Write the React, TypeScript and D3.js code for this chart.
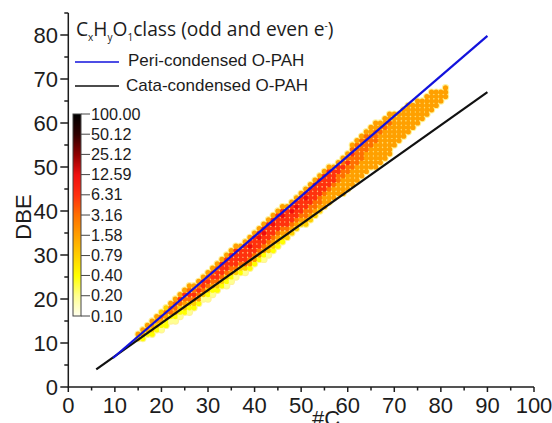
import React from "react";
import * as d3 from "d3";

const xTicks = [0, 10, 20, 30, 40, 50, 60, 70, 80, 90, 100];
const xMinor = [5, 15, 25, 35, 45, 55, 65, 75, 85, 95];
const yTicks = [0, 10, 20, 30, 40, 50, 60, 70, 80];
const yMinor = [5, 15, 25, 35, 45, 55, 65, 75, 85];

const periLine: [number, number][] = [[9.6, 6.6], [90, 79.8]];
const cataLine: [number, number][] = [[6, 4], [90, 67]];

const scaleLabels = ["100.00", "50.12", "25.12", "12.59", "6.31", "3.16", "1.58", "0.79", "0.40", "0.20", "0.10"];
const scaleValues = [100, 50.12, 25.12, 12.59, 6.31, 3.16, 1.58, 0.79, 0.4, 0.2, 0.1];
const scaleColors = ["#000000", "#300000", "#900000", "#f01010", "#ff3010", "#ff7000", "#ffa000", "#ffd000", "#ffff00", "#ffff90", "#fffff0"];

// abundance digit => value on the colour bar
const levelValues = [0.1, 0.2, 0.4, 0.79, 1.58, 3.16, 6.31, 12.59, 25.12, 50.12];

const firstCarbon = 15;
// lowest DBE seen for each #C, from #C = 15 up to #C = 81
const lowestDbe = [
  11, 11, 12, 12, 13, 13, 14, 15, 15, 16, 17, 17, 18, 19, 20, 20, 21, 22, 23, 23, 24, 25, 26, 26, 27, 28, 29, 29, 30, 31, 32, 33, 34, 35,
  36, 37, 37, 38, 39, 40, 41, 42, 43, 44, 44, 45, 46, 47, 48, 49, 50, 50, 51, 52, 53, 55, 56, 57, 58, 59, 60, 61, 62, 63, 64, 65, 66,
];
// abundance digits going up each column, starting at its lowest DBE
const columnLevels = [
  "34", "244", "244", "2344", "2344", "12453", "22453", "12554", "124554", "123564", "234564", "1235654",
  "235654", "245654", "135664", "1235654", "1245654", "2356654", "2356664", "12356664", "12456664", "13566664", "2356664",
  "13566664", "24566764", "24566664", "24566764", "124566764", "134566664", "234566764", "234566664", "234566764", "34566664", "34566764",
  "34566764", "34566664", "345566764", "345566664", "345566664", "345566664", "444566664", "444566664", "44456664", "44455664",
  "444455654", "444455654", "4444555654", "4444555554", "4444555554", "4444455554", "4444455544", "44444455544", "4444444544", "4444444544",
  "4444444544", "44444444", "4444444", "4444444", "4444444", "444444", "444444", "44444", "44444", "44444", "4444", "444", "444",
];

const x = d3.scaleLinear().domain([0, 100]).range([68.3, 534]);
const y = d3.scaleLinear().domain([0, 85]).range([387, 13]);
const barY = d3.scaleLog().domain([0.1, 100]).range([316, 114]);
const color = d3.scaleLog<string>().domain(scaleValues).range(scaleColors).interpolate(d3.interpolateRgb);
const line = d3.line<[number, number]>().x((d) => x(d[0])).y((d) => y(d[1]));

const cells = columnLevels.flatMap((col, i) =>
  col.split("").map((ch, j) => ({ c: firstCarbon + i, dbe: lowestDbe[i] + j, v: levelValues[+ch] }))
);
const barSteps = d3.range(0, 202).map((i) => barY.invert(114 + i));

const sans = "'Liberation Sans', Arial, sans-serif";
const title = "'Open Sans', sans-serif";
const ink = "#1c1c1c";

export default function App() {
  return (
    <svg width={552} height={423} style={{ position: "absolute", left: 0, top: 0, background: "#fff" }} fontFamily={sans} fill={ink}>
      <defs>
        <filter id="soft" x="-5%" y="-5%" width="110%" height="110%">
          <feGaussianBlur stdDeviation="0.35" />
        </filter>
      </defs>

      <g filter="url(#soft)">
        {cells.map((d, i) => (
          <circle key={i} cx={x(d.c)} cy={y(d.dbe)} r={3.7} fill="#fff29a" />
        ))}
        {cells.map((d, i) => (
          <circle key={i} cx={x(d.c)} cy={y(d.dbe)} r={2.6} fill={color(d.v)} />
        ))}
      </g>

      <path d={line(cataLine)!} fill="none" stroke="#111" strokeWidth={2.2} />
      <path d={line(periLine)!} fill="none" stroke="#1212dc" strokeWidth={2.2} />

      {/* axes */}
      <g stroke={ink} strokeWidth={1.5} fill="none">
        <path d={`M${x(0)},${y(85)}V${y(0)}H${x(100)}`} />
        {xTicks.map((t) => <path key={t} d={`M${x(t)},${y(0)}v5`} />)}
        {xMinor.map((t) => <path key={t} d={`M${x(t)},${y(0)}v3.5`} />)}
        {yTicks.map((t) => <path key={t} d={`M${x(0)},${y(t)}h-8`} />)}
        {yMinor.map((t) => <path key={t} d={`M${x(0)},${y(t)}h-4`} />)}
      </g>
      <g fontSize={22}>
        {xTicks.map((t) => <text key={t} x={x(t)} y={412.5} textAnchor="middle">{t}</text>)}
        {yTicks.map((t) => <text key={t} x={58} y={y(t) + 8} textAnchor="end">{t}</text>)}
        <text x={326} y={426} textAnchor="middle">#C</text>
        <text transform="translate(31,217) rotate(-90)" textAnchor="middle">DBE</text>
      </g>

      {/* colour bar */}
      {barSteps.map((v, i) => (
        <rect key={i} x={73} y={114 + i} width={8} height={1.2} fill={color(v)} />
      ))}
      <rect x={73} y={114} width={8} height={202} fill="none" stroke="#444" strokeWidth={1} />
      {scaleValues.map((v, i) => (
        <g key={i}>
          <path d={`M81,${barY(v)}h9`} stroke="#444" strokeWidth={1} />
          <text x={91} y={barY(v) + 5.5} fontSize={16.2}>{scaleLabels[i]}</text>
        </g>
      ))}

      {/* legend */}
      <text x={76} y={36} fontFamily={title} fontSize={19.2}>
        <tspan>C</tspan>
        <tspan fontSize={10} dy={5}>x</tspan>
        <tspan dy={-5}>H</tspan>
        <tspan fontSize={10} dy={5}>y</tspan>
        <tspan dy={-5}>O</tspan>
        <tspan fontSize={10} dy={5}>1</tspan>
        <tspan dy={-5}>class (odd and even e</tspan>
        <tspan fontSize={10} dy={-7}>-</tspan>
        <tspan dy={7}>)</tspan>
      </text>
      <path d="M75,62H119" stroke="#1212dc" strokeWidth={1.6} />
      <text x={128} y={66} fontSize={17}>Peri-condensed O-PAH</text>
      <path d="M75,86H119" stroke="#111" strokeWidth={1.6} />
      <text x={126} y={90.5} fontSize={17}>Cata-condensed O-PAH</text>
    </svg>
  );
}
